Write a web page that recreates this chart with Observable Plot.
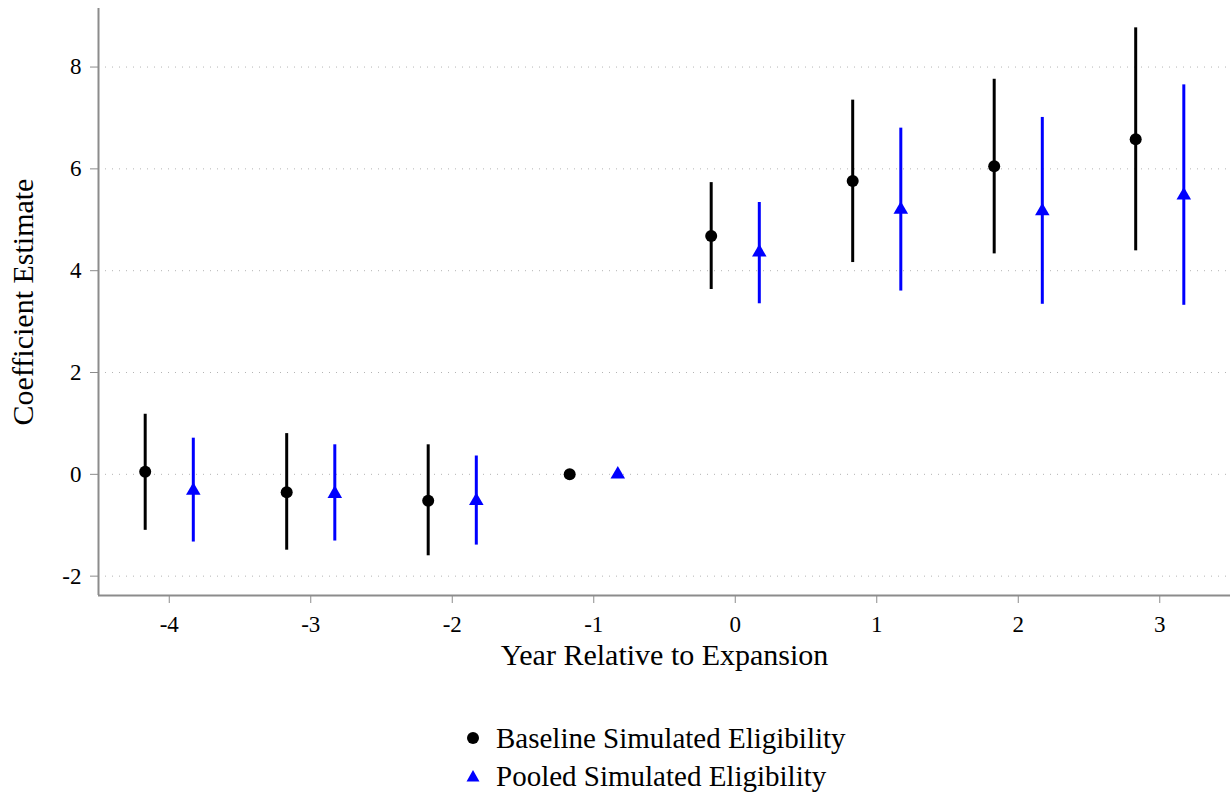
<!DOCTYPE html>
<html>
<head>
<meta charset="utf-8">
<script src="https://cdn.jsdelivr.net/npm/d3@7"></script>
<script src="https://cdn.jsdelivr.net/npm/@observablehq/plot@0.6"></script>
<style>
  body { margin: 0; background: #fff; font-family: "Liberation Serif", "DejaVu Serif", serif; }
  #wrap { position: relative; width: 1231px; height: 796px; }
  #legend { position: absolute; left: 466px; top: 719px; font-size: 29px; color: #000; }
  .row { display: flex; align-items: center; height: 38px; }
  .sym { width: 14px; display: flex; margin-right: 16px; }
</style>
</head>
<body>
<div id="wrap">
  <div id="chart"></div>
  <div id="legend"></div>
</div>
<script>
const years = [-4, -3, -2, -1, 0, 1, 2, 3];
const baseEst = [0.05, -0.35, -0.52, 0, 4.68, 5.76, 6.05, 6.58];
const baseLo  = [-1.10, -1.49, -1.60, 0, 3.63, 4.16, 4.33, 4.39];
const baseHi  = [1.18, 0.80, 0.58, 0, 5.73, 7.35, 7.76, 8.77];
const poolEst = [-0.32, -0.38, -0.52, 0, 4.36, 5.20, 5.17, 5.48];
const poolLo  = [-1.33, -1.31, -1.39, 0, 3.35, 3.60, 3.34, 3.32];
const poolHi  = [0.71, 0.58, 0.36, 0, 5.34, 6.80, 7.01, 7.65];
const seriesNames = ["Baseline Simulated Eligibility", "Pooled Simulated Eligibility"];
const seriesColors = ["#000000", "#0000ff"];
const seriesOffsets = [-0.17, 0.17];
const xTicks = years;
const yTicks = [-2, 0, 2, 4, 6, 8];
const xDomain = [-4.5, 3.5];
const yDomain = [-2.38, 9.15];
const xTitle = "Year Relative to Expansion";
const yTitle = "Coefficient Estimate";

const base = years.map((y, i) => ({x: y + seriesOffsets[0], est: baseEst[i], lo: baseLo[i], hi: baseHi[i]}));
const pool = years.map((y, i) => ({x: y + seriesOffsets[1], est: poolEst[i], lo: poolLo[i], hi: poolHi[i]}));
const gray = "#8c8c8c";

const chart = Plot.plot({
  width: 1231,
  height: 700,
  marginLeft: 98,
  marginRight: 1,
  marginTop: 8,
  marginBottom: 105,
  style: {fontFamily: "'Liberation Serif', serif", background: "#fff"},
  x: {domain: xDomain},
  y: {domain: yDomain},
  marks: [
    Plot.gridY(yTicks, {stroke: "#b4b4b4", strokeOpacity: 1, strokeDasharray: "1,6", strokeWidth: 1}),
    Plot.ruleX([xDomain[0]], {stroke: gray, strokeWidth: 2}),
    Plot.ruleY([yDomain[0]], {stroke: gray, strokeWidth: 2}),
    Plot.axisX({ticks: xTicks, tickSize: 8, tickPadding: 12, fontSize: 23, stroke: gray, fill: "#000", label: null, tickFormat: d => String(d)}),
    Plot.axisY({ticks: yTicks, tickSize: 8, tickPadding: 9, fontSize: 23, stroke: gray, fill: "#000", label: null, tickFormat: d => String(d)}),
    Plot.ruleX(base.filter(d => d.lo !== d.hi), {x: "x", y1: "lo", y2: "hi", stroke: seriesColors[0], strokeWidth: 3}),
    Plot.ruleX(pool.filter(d => d.lo !== d.hi), {x: "x", y1: "lo", y2: "hi", stroke: seriesColors[1], strokeWidth: 3}),
    Plot.dot(base, {x: "x", y: "est", r: 6, fill: seriesColors[0], stroke: null}),
    Plot.dot(pool, {x: "x", y: "est", r: 5.4, symbol: "triangle", fill: seriesColors[1], stroke: null}),
    Plot.text([yTitle], {frameAnchor: "left", textAnchor: "middle", dx: -75, rotate: -90, fontSize: 30, fill: "#000"}),
    Plot.text([xTitle], {frameAnchor: "bottom", dy: 69, fontSize: 30, fill: "#000"})
  ]
});
document.getElementById("chart").appendChild(chart);

const legend = document.getElementById("legend");
seriesNames.forEach((name, i) => {
  const row = document.createElement("div");
  row.className = "row";
  const sym = document.createElement("div");
  sym.className = "sym";
  sym.innerHTML = i === 0
    ? `<svg width="14" height="14"><circle cx="7" cy="7" r="6" fill="${seriesColors[i]}"/></svg>`
    : `<svg width="14" height="14"><path d="M7,1 L13.5,12.5 L0.5,12.5 Z" fill="${seriesColors[i]}"/></svg>`;
  const txt = document.createElement("span");
  txt.textContent = name;
  row.appendChild(sym);
  row.appendChild(txt);
  legend.appendChild(row);
});
</script>
</body>
</html>
